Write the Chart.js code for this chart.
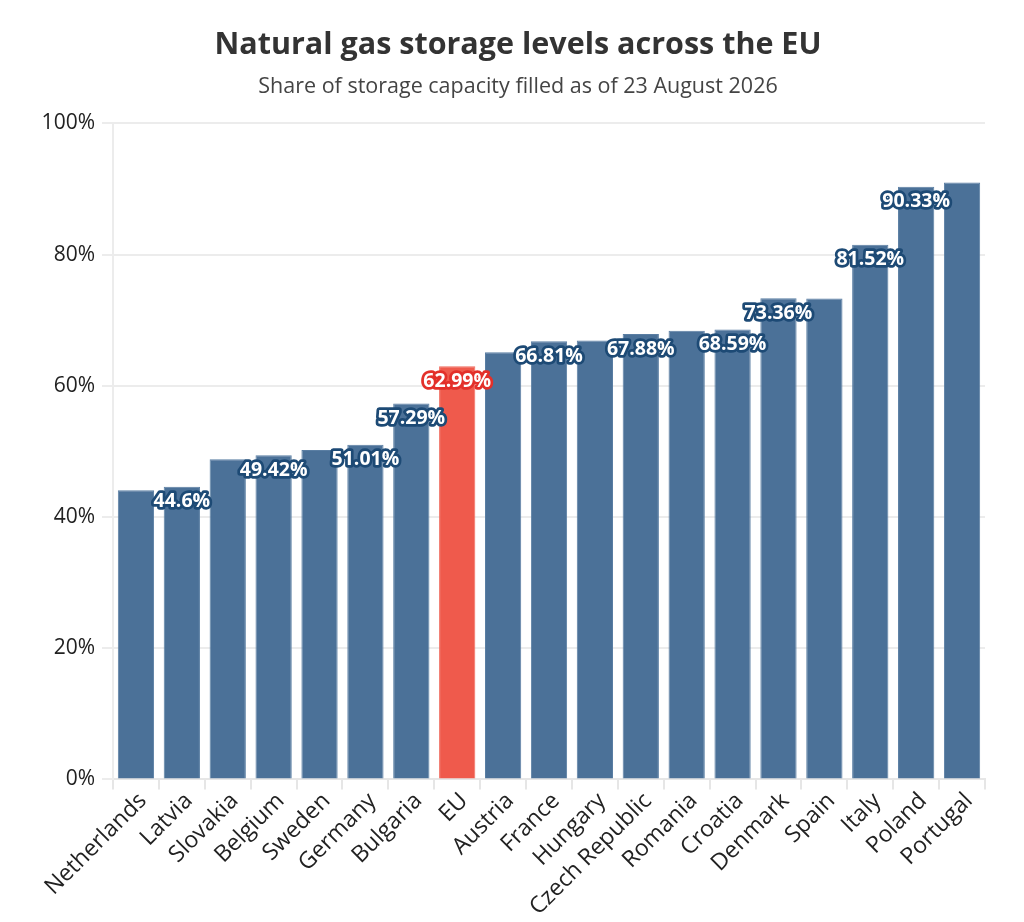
<!DOCTYPE html>
<html>
<head>
<meta charset="utf-8">
<script src="https://cdn.jsdelivr.net/npm/chart.js@4"></script>
<style>
  html, body { margin: 0; padding: 0; background: #fff; }
  #wrap { width: 1024px; height: 922px; }
</style>
</head>
<body>
<div id="wrap"><canvas id="c"></canvas></div>
<script>
const countries = ["Netherlands","Latvia","Slovakia","Belgium","Sweden","Germany","Bulgaria","EU","Austria","France","Hungary","Czech Republic","Romania","Croatia","Denmark","Spain","Italy","Poland","Portugal"];
const fillLevels = [44.1, 44.6, 48.8, 49.42, 50.2, 51.01, 57.29, 62.99, 65.1, 66.81, 66.9, 67.88, 68.4, 68.59, 73.36, 73.3, 81.52, 90.33, 91.0];
const labelled = [false,true,false,true,false,true,true,true,false,true,false,true,false,true,true,false,true,true,false];
const yTicks = [0, 20, 40, 60, 80, 100];

const BLUE = '#4b7198', BLUE_EDGE = '#5a7ea3', BLUE_DARK = '#1d4a75';
const RED = '#ef5a4c', RED_EDGE = '#f06a5d', RED_DARK = '#e3302a';

const labelPlugin = {
  id: 'barLabels',
  afterDatasetsDraw(chart) {
    const ctx = chart.ctx;
    const meta = chart.getDatasetMeta(0);
    ctx.save();
    ctx.font = 'bold 19.5px "Open Sans"';
    ctx.textAlign = 'center';
    ctx.textBaseline = 'middle';
    ctx.lineJoin = 'round';
    ctx.lineWidth = 5.5;
    meta.data.forEach((bar, i) => {
      if (!labelled[i]) return;
      const txt = fillLevels[i] + '%';
      const y = bar.y + 15;
      ctx.strokeStyle = countries[i] === 'EU' ? RED_DARK : BLUE_DARK;
      ctx.strokeText(txt, bar.x, y);
      ctx.fillStyle = '#ffffff';
      ctx.fillText(txt, bar.x, y);
    });
    ctx.restore();
  }
};

new Chart(document.getElementById('c'), {
  type: 'bar',
  data: {
    labels: countries,
    datasets: [{
      data: fillLevels,
      backgroundColor: countries.map(c => c === 'EU' ? RED : BLUE),
      borderColor: countries.map(c => c === 'EU' ? RED_EDGE : BLUE_EDGE),
      borderWidth: 1,
      barPercentage: 0.79,
      categoryPercentage: 1.0
    }]
  },
  options: {
    responsive: true,
    maintainAspectRatio: false,
    animation: false,
    layout: { padding: { left: 51, right: 39, bottom: 3 } },
    plugins: {
      legend: { display: false },
      tooltip: { enabled: false },
      title: {
        display: true,
        text: 'Natural gas storage levels across the EU',
        color: '#333333',
        font: { family: '"Open Sans"', size: 30.5, weight: 'bold' },
        padding: { top: 27, bottom: 6 }
      },
      subtitle: {
        display: true,
        text: 'Share of storage capacity filled as of 23 August 2026',
        color: '#444444',
        font: { family: '"Open Sans"', size: 21.5 },
        padding: { top: 4, bottom: 24 }
      }
    },
    scales: {
      x: {
        offset: true,
        grid: { display: true, drawOnChartArea: false, drawTicks: true, tickLength: 10, color: '#e6e6e6', lineWidth: 2 },
        border: { color: '#e6e6e6', width: 2 },
        ticks: {
          color: '#222222',
          font: { family: '"Open Sans"', size: 23 },
          maxRotation: 45, minRotation: 45, autoSkip: false, padding: -2, labelOffset: 7
        }
      },
      y: {
        min: 0, max: 100,
        afterBuildTicks(axis) { axis.ticks = yTicks.map(v => ({ value: v })); },
        afterFit(axis) {
          axis.width = 62;
          axis._computeLabelArea = () => undefined;
        },
        grid: { color: '#ececec', lineWidth: 2, tickLength: 11 },
        border: { color: '#ececec', width: 2 },
        ticks: {
          color: '#222222',
          font: { family: '"Open Sans"', size: 21 },
          padding: 7,
          callback: v => v + '%'
        }
      }
    }
  },
  plugins: [labelPlugin]
});
</script>
</body>
</html>
